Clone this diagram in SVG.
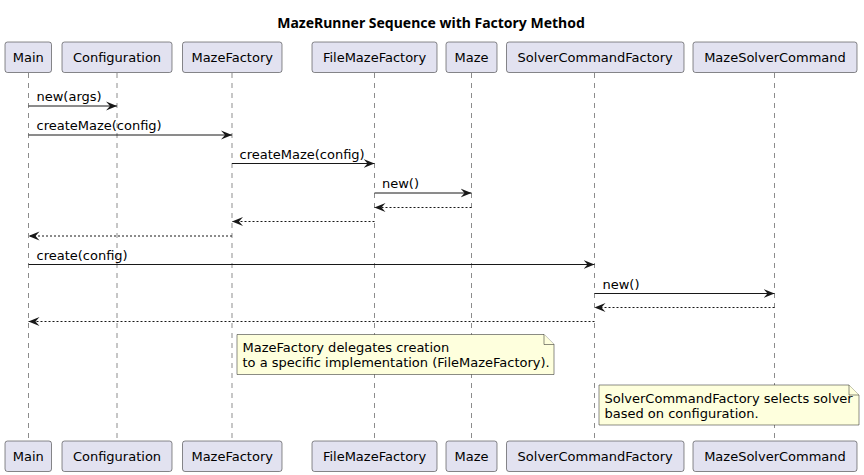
<svg xmlns="http://www.w3.org/2000/svg" width="864" height="475" viewBox="0 0 864 475">
<style>
.box{fill:#E2E2F0;stroke:#181818;stroke-width:0.5}
.pt{font-family:"DejaVu Sans",sans-serif;font-size:13px;fill:#000;text-anchor:middle}
.life{stroke:#181818;stroke-width:0.5;stroke-dasharray:5,5;fill:none}
.msg{stroke:#181818;stroke-width:1;fill:none}
.ret{stroke:#181818;stroke-width:1;stroke-dasharray:2,2;fill:none}
.ml{font-family:"DejaVu Sans",sans-serif;font-size:13px;fill:#000}
.note{fill:#FEFFDD;stroke:#181818;stroke-width:0.5}
.title{font-family:"Noto Sans","DejaVu Sans",sans-serif;font-size:14px;font-weight:bold;fill:#000;text-anchor:middle}
</style>
<defs>
<marker id="ah" viewBox="0 0 11 10" refX="11" refY="5" markerWidth="11" markerHeight="10" markerUnits="userSpaceOnUse" orient="auto">
<polygon points="0,0.5 11,5 0,9.5 4,5" fill="#181818"/>
</marker>
</defs>
<rect width="864" height="475" fill="#FFFFFF"/>
<text class="title" x="431" y="28">MazeRunner Sequence with Factory Method</text>
<g id="lifelines">
<line class="life" x1="28.5" y1="73" x2="28.5" y2="441"/>
<line class="life" x1="117" y1="73" x2="117" y2="441"/>
<line class="life" x1="232" y1="73" x2="232" y2="441"/>
<line class="life" x1="374.5" y1="73" x2="374.5" y2="441"/>
<line class="life" x1="471.5" y1="73" x2="471.5" y2="441"/>
<line class="life" x1="594.5" y1="73" x2="594.5" y2="441"/>
<line class="life" x1="774.5" y1="73" x2="774.5" y2="441"/>
</g>
<g id="Main">
<rect class="box" x="5" y="42" width="46.5" height="30.5" rx="2.5"/>
<text class="pt" x="28.3" y="62">Main</text>
<rect class="box" x="5" y="441" width="46.5" height="30.5" rx="2.5"/>
<text class="pt" x="28.3" y="461">Main</text>
</g>
<g id="Configuration">
<rect class="box" x="62" y="42" width="110" height="30.5" rx="2.5"/>
<text class="pt" x="117" y="62">Configuration</text>
<rect class="box" x="62" y="441" width="110" height="30.5" rx="2.5"/>
<text class="pt" x="117" y="461">Configuration</text>
</g>
<g id="MazeFactory">
<rect class="box" x="182.5" y="42" width="99.5" height="30.5" rx="2.5"/>
<text class="pt" x="232.2" y="62">MazeFactory</text>
<rect class="box" x="182.5" y="441" width="99.5" height="30.5" rx="2.5"/>
<text class="pt" x="232.2" y="461">MazeFactory</text>
</g>
<g id="FileMazeFactory">
<rect class="box" x="312" y="42" width="125" height="30.5" rx="2.5"/>
<text class="pt" x="374.5" y="62">FileMazeFactory</text>
<rect class="box" x="312" y="441" width="125" height="30.5" rx="2.5"/>
<text class="pt" x="374.5" y="461">FileMazeFactory</text>
</g>
<g id="Maze">
<rect class="box" x="446" y="42" width="51" height="30.5" rx="2.5"/>
<text class="pt" x="471.5" y="62">Maze</text>
<rect class="box" x="446" y="441" width="51" height="30.5" rx="2.5"/>
<text class="pt" x="471.5" y="461">Maze</text>
</g>
<g id="SolverCommandFactory">
<rect class="box" x="506.5" y="42" width="177.5" height="30.5" rx="2.5"/>
<text class="pt" x="595.2" y="62">SolverCommandFactory</text>
<rect class="box" x="506.5" y="441" width="177.5" height="30.5" rx="2.5"/>
<text class="pt" x="595.2" y="461">SolverCommandFactory</text>
</g>
<g id="MazeSolverCommand">
<rect class="box" x="693" y="42" width="164" height="30.5" rx="2.5"/>
<text class="pt" x="775" y="62">MazeSolverCommand</text>
<rect class="box" x="693" y="441" width="164" height="30.5" rx="2.5"/>
<text class="pt" x="775" y="461">MazeSolverCommand</text>
</g>
<g id="connectors">
<line class="msg" x1="28.5" y1="106" x2="117" y2="106" marker-end="url(#ah)"/>
<text class="ml" x="36.5" y="101">new(args)</text>
<line class="msg" x1="28.5" y1="135" x2="232" y2="135" marker-end="url(#ah)"/>
<text class="ml" x="36.5" y="130">createMaze(config)</text>
<line class="msg" x1="232" y1="163.5" x2="374.5" y2="163.5" marker-end="url(#ah)"/>
<text class="ml" x="239.5" y="158.5">createMaze(config)</text>
<line class="msg" x1="374.5" y1="193" x2="471.5" y2="193" marker-end="url(#ah)"/>
<text class="ml" x="382" y="188">new()</text>
<line class="ret" x1="471.5" y1="207.5" x2="374.5" y2="207.5" marker-end="url(#ah)"/>
<line class="ret" x1="374.5" y1="221.5" x2="232" y2="221.5" marker-end="url(#ah)"/>
<line class="ret" x1="232" y1="236" x2="28.5" y2="236" marker-end="url(#ah)"/>
<line class="msg" x1="28.5" y1="264.5" x2="594.5" y2="264.5" marker-end="url(#ah)"/>
<text class="ml" x="36.5" y="259.5">create(config)</text>
<line class="msg" x1="594.5" y1="293.5" x2="774.5" y2="293.5" marker-end="url(#ah)"/>
<text class="ml" x="602.5" y="288.5">new()</text>
<line class="ret" x1="774.5" y1="307.5" x2="594.5" y2="307.5" marker-end="url(#ah)"/>
<line class="ret" x1="594.5" y1="321.5" x2="28.5" y2="321.5" marker-end="url(#ah)"/>
</g>
<g id="note1">
<path class="note" d="M237,334.5 L544,334.5 L554,344.5 L554,374.5 L237,374.5 Z"/>
<path class="note" d="M544,334.5 L544,344.5 L554,344.5"/>
<text class="ml" x="242.5" y="352">MazeFactory delegates creation</text>
<text class="ml" x="242.5" y="367">to a specific implementation (FileMazeFactory).</text>
</g>
<g id="note2">
<path class="note" d="M599,385 L849,385 L859,395 L859,425 L599,425 Z"/>
<path class="note" d="M849,385 L849,395 L859,395"/>
<text class="ml" x="604.5" y="402.5">SolverCommandFactory selects solver</text>
<text class="ml" x="604.5" y="417.5">based on configuration.</text>
</g>
</svg>
